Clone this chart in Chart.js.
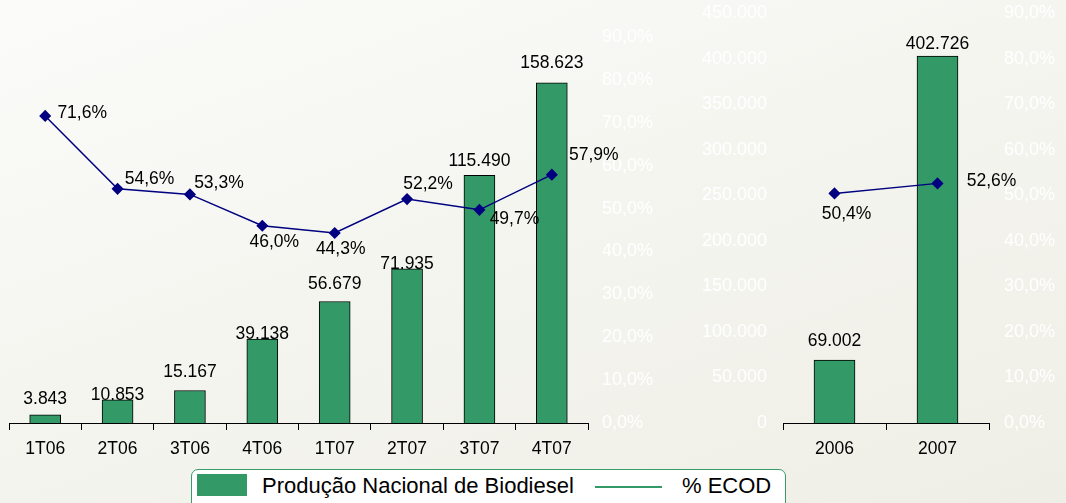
<!DOCTYPE html>
<html>
<head>
<meta charset="utf-8">
<script src="https://cdn.jsdelivr.net/npm/chart.js@4.4.1/dist/chart.umd.min.js"></script>
<style>
  html,body{margin:0;padding:0;}
  body{width:1066px;height:503px;overflow:hidden;position:relative;
    background:linear-gradient(160deg,#fbfbf9 0%,#f5f5f0 45%,#efeee6 100%);
    font-family:'Liberation Sans',Arial,sans-serif;}
  .box{position:absolute;top:0;height:503px;}
  #legend{position:absolute;left:191px;top:469px;width:593px;height:50px;
    border:1.5px solid #3a9a6a;border-radius:7px;background:#fff;font-size:22px;color:#000;}
  #legend span{position:absolute;}
</style>
</head>
<body>
<div class="box" style="left:0;width:700px"><canvas id="quarterly"></canvas></div>
<div class="box" style="left:700px;width:366px"><canvas id="yearly"></canvas></div>
<div id="legend">
  <span style="left:5px;top:4px;width:50px;height:22px;background:#339966"></span>
  <span style="left:70px;top:4px;line-height:24px">Produção Nacional de Biodiesel</span>
  <span style="left:403px;top:16px;width:67px;height:1.5px;background:#339966"></span>
  <span style="left:490px;top:4px;line-height:24px">% ECOD</span>
</div>
<script>
/* ---- data ---- */
const quarters = ['1T06','2T06','3T06','4T06','1T07','2T07','3T07','4T07'];
const prodQuarter = [3843, 10853, 15167, 39138, 56679, 71935, 115490, 158623];
const ecodQuarter = [71.6, 54.6, 53.3, 46.0, 44.3, 52.2, 49.7, 57.9];

const years = ['2006','2007'];
const prodYear = [69002, 402726];
const ecodYear = [50.4, 52.6];

/* label placement tweaks (px) */
const quarterBarGap = [11, 0, 13, 0, 12, 0, 9, 15];
const quarterPctOffset = [[37,-3],[32,-10],[29,-11],[12,16],[6,16],[21,-15],[35,9],[42,-20]];
const yearBarGap = [14, 7];
const yearPctOffset = [[12,21],[54,-2]];

/* ---- helpers ---- */
const FONT = "'Liberation Sans',Arial,sans-serif";
Chart.defaults.font.family = FONT;
Chart.defaults.font.size = 17;
Chart.defaults.color = '#000';

const fmtInt = v => String(Math.round(v)).replace(/\B(?=(\d{3})+(?!\d))/g, '.');
const fmtPct = v => Number(v).toFixed(1).replace('.', ',') + '%';

const valueLabels = {
  id: 'valueLabels',
  afterDatasetsDraw(chart, args, opts){
    const ctx = chart.ctx;
    ctx.save();
    ctx.font = '17.5px ' + FONT;
    ctx.fillStyle = '#000';
    ctx.textAlign = 'center';
    chart.data.datasets.forEach((ds, i) => {
      chart.getDatasetMeta(i).data.forEach((el, j) => {
        if (ds.type === 'bar') {
          ctx.textBaseline = 'alphabetic';
          ctx.fillText(fmtInt(ds.data[j]), el.x, el.y - opts.barGap[j]);
        } else {
          const o = opts.pctOffset[j];
          ctx.textBaseline = 'middle';
          ctx.fillText(fmtPct(ds.data[j]), el.x + o[0], el.y + o[1]);
        }
      });
    });
    ctx.restore();
  }
};

const xAxis = (h) => ({
  grid:{display:true,drawOnChartArea:false,drawTicks:true,tickLength:7,color:'#000',offset:true},
  border:{display:true,color:'#000',width:1},
  ticks:{padding:9,color:'#000',font:{size:17.5}},
  afterFit(s){ s.height = h; }
});
// label gap = tickLength + padding; padding also feeds the top inset, so keep it small
const pctAxis = (w, gap) => ({
  position:'right',min:0,max:90,
  grid:{display:false,drawTicks:true,tickLength:gap-2},border:{display:false},
  ticks:{stepSize:10,padding:2,color:'#ffffff',font:{size:18},callback:v=>fmtPct(v)},
  afterFit(s){ s.width = w; }
});

function combo(id, labels, bars, pcts, barThickness, yScale, y1Scale, pad, labelOpts){
  return new Chart(document.getElementById(id), {
    data:{labels, datasets:[
      {type:'line',label:'% ECOD',data:pcts,yAxisID:'y1',order:0,
        borderColor:'#000080',borderWidth:1.5,tension:0,
        pointStyle:'rectRot',pointRadius:5,pointBackgroundColor:'#000080',pointBorderColor:'#000080'},
      {type:'bar',label:'Produção Nacional de Biodiesel',data:bars,yAxisID:'y',order:1,
        backgroundColor:'#339966',borderColor:'#000',borderWidth:1,barThickness}
    ]},
    options:{responsive:true,maintainAspectRatio:false,animation:false,
      layout:{padding:pad},
      plugins:{legend:{display:false},tooltip:{enabled:false},valueLabels:labelOpts},
      scales:{x:xAxis(80), y:yScale, y1:y1Scale}},
    plugins:[valueLabels]
  });
}

combo('quarterly', quarters, prodQuarter, ecodQuarter, 31,
  {display:false,min:0,max:180000},
  pctAxis(112, 14),
  {left:9,top:37,right:0,bottom:0},
  {barGap:quarterBarGap,pctOffset:quarterPctOffset});

combo('yearly', years, prodYear, ecodYear, 41,
  {position:'left',min:0,max:450000,
   grid:{display:false,drawTicks:true,tickLength:14},border:{display:false},
   ticks:{stepSize:50000,padding:2,color:'#ffffff',font:{size:18},callback:v=>fmtInt(v)},
   afterFit(s){ s.width = 83; }},
  pctAxis(77, 15),
  {left:0,top:13,right:0,bottom:0},
  {barGap:yearBarGap,pctOffset:yearPctOffset});
</script>
</body>
</html>
